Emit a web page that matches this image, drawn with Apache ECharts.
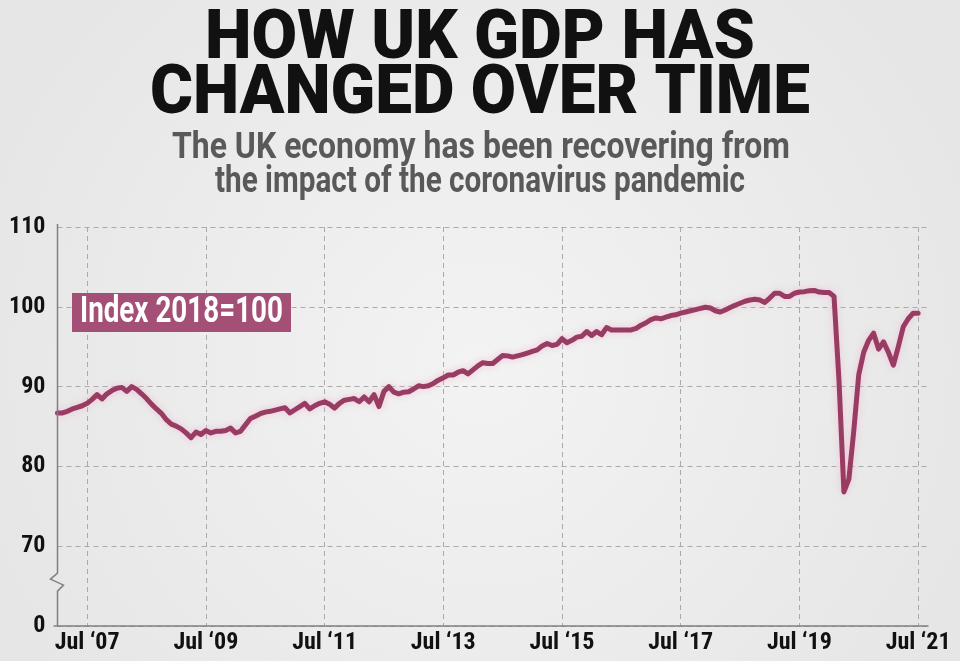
<!DOCTYPE html>
<html><head><meta charset="utf-8">
<script src="https://cdn.jsdelivr.net/npm/echarts@6/dist/echarts.min.js"></script>
<style>html,body{margin:0;padding:0;background:#ececec}#c{width:960px;height:661px}</style>
</head><body><div id="c"></div>
<script>
// ---- data (UK GDP monthly index, 2018=100), Jan 2007 .. Jul 2021 ----
const gdp2007 = [86.7, 86.7, 86.9, 87.2, 87.4, 87.6, 87.9, 88.4, 89.0, 88.45, 89.1, 89.5];
const gdp2008 = [89.8, 89.9, 89.4, 90.0, 89.65, 89.1, 88.5, 87.8, 87.2, 86.65, 85.85, 85.3];
const gdp2009 = [85.05, 84.7, 84.2, 83.6, 84.3, 84.0, 84.5, 84.2, 84.4, 84.4, 84.5, 84.8];
const gdp2010 = [84.2, 84.4, 85.2, 86.0, 86.3, 86.6, 86.8, 86.9, 87.05, 87.2, 87.35, 86.7];
const gdp2011 = [87.1, 87.5, 87.9, 87.2, 87.6, 87.9, 88.1, 87.8, 87.3, 87.9, 88.3, 88.4];
const gdp2012 = [88.5, 88.1, 88.7, 88.1, 89.0, 87.5, 89.4, 90.0, 89.3, 89.1, 89.3, 89.35];
const gdp2013 = [89.7, 90.1, 90.0, 90.1, 90.4, 90.8, 91.1, 91.45, 91.45, 91.8, 92.0, 91.6];
const gdp2014 = [92.1, 92.6, 93.0, 92.9, 92.9, 93.4, 93.9, 93.85, 93.7, 93.85, 94.0, 94.2];
const gdp2015 = [94.4, 94.6, 95.1, 95.4, 95.15, 95.3, 96.0, 95.5, 95.8, 96.2, 96.3, 96.9];
const gdp2016 = [96.4, 96.9, 96.5, 97.4, 97.1, 97.1, 97.1, 97.1, 97.1, 97.3, 97.7, 98.0];
const gdp2017 = [98.4, 98.6, 98.5, 98.7, 98.9, 99.0, 99.2, 99.35, 99.5, 99.65, 99.8, 99.95];
const gdp2018 = [99.85, 99.5, 99.35, 99.6, 99.9, 100.2, 100.45, 100.7, 100.85, 100.95, 100.85, 100.55];
const gdp2019 = [101.1, 101.7, 101.7, 101.3, 101.3, 101.7, 101.85, 101.9, 102.0, 102.05, 101.85, 101.8];
const gdp2020 = [101.8, 101.3, 90.8, 76.8, 78.4, 84.5, 91.5, 94.3, 95.8, 96.7, 94.7, 95.6];
const gdp2021 = [94.3, 92.7, 95.0, 97.5, 98.5, 99.2, 99.2];

const monthNames = ['Jan','Feb','Mar','Apr','May','Jun','Jul','Aug','Sep','Oct','Nov','Dec'];
const firstYear = 2007, lastYear = 2021, lastMonthOnAxis = 9; // axis runs to Sep 2021
const xTickLabels = ['Jul \u201807','Jul \u201809','Jul \u201811','Jul \u201813','Jul \u201815','Jul \u201817','Jul \u201819','Jul \u201821'];
const yTickValues = [60, 70, 80, 90, 100, 110];
const yTickLabels = ['0', '70', '80', '90', '100', '110'];

const titleLines = ['HOW UK GDP HAS', 'CHANGED OVER TIME'];
const subtitleLines = ['The UK economy has been recovering from', 'the impact of the coronavirus pandemic'];
const indexLabel = 'Index 2018=100';

// ---- build ----
const gdpValues = [].concat(gdp2007, gdp2008, gdp2009, gdp2010, gdp2011, gdp2012, gdp2013,
  gdp2014, gdp2015, gdp2016, gdp2017, gdp2018, gdp2019, gdp2020, gdp2021);
const categories = [];
for (let y = firstYear; y <= lastYear; y++) {
  for (let m = 0; m < 12; m++) {
    if (y === lastYear && m >= lastMonthOnAxis) break;
    categories.push(monthNames[m] + ' \u2018' + String(y).slice(2));
  }
}

const LINE = '#983c64', BOX = '#a34f76';
const condensed = "'Liberation Sans Narrow','Roboto Condensed','Arial Narrow',Roboto,sans-serif";
const mc = document.createElement('canvas').getContext('2d');
function fitScale(text, font, w) { mc.font = font; return w / mc.measureText(text).width; }
function fitText(text, font, w, cx, cy, fill) {
  return { type: 'text', x: cx, y: cy, scaleX: fitScale(text, font, w), z: 10,
    style: { text: text, font: font, fill: fill, align: 'center', verticalAlign: 'middle' } };
}
const TF = '900 68px Roboto', SF = '700 36px Roboto', IF = '700 37px Roboto';

const gridLeft = 57.5, gridRight = 32, gridTop = 227, gridBottom = 35;
const chart = echarts.init(document.getElementById('c'), null, { renderer: 'canvas' });
chart.setOption({
  animation: false,
  backgroundColor: { type: 'radial', x: 0.5, y: 0.55, r: 0.8,
    colorStops: [{ offset: 0, color: '#f3f3f3' }, { offset: 1, color: '#e6e6e6' }] },
  grid: { left: gridLeft, right: gridRight, top: gridTop, bottom: gridBottom, containLabel: false },
  xAxis: {
    type: 'category', data: categories, boundaryGap: false,
    axisLine: { show: true, lineStyle: { color: '#808080', width: 1.5 } },
    axisTick: { show: false },
    axisLabel: { interval: (i, v) => xTickLabels.includes(v), color: '#111', fontFamily: condensed,
      fontWeight: 'bold', fontSize: 24, margin: 5 },
    splitLine: { show: true, interval: (i, v) => xTickLabels.includes(v),
      lineStyle: { color: '#aaaaaa', width: 1, type: [5, 4] } }
  },
  yAxis: {
    type: 'value', min: 60, max: 110, interval: 10,
    axisLine: { show: false }, axisTick: { show: false },
    axisLabel: { formatter: v => yTickLabels[yTickValues.indexOf(v)], color: '#111', fontFamily: condensed,
      fontWeight: 'bold', fontSize: 24, margin: 12 },
    splitLine: { show: true, lineStyle: { color: '#aaaaaa', width: 1, type: [5, 4] } }
  },
  series: [{
    type: 'line', data: gdpValues, showSymbol: false, z: 5,
    lineStyle: { color: LINE, width: 5, cap: 'round', join: 'round',
      shadowColor: 'rgba(240,190,212,0.9)', shadowBlur: 7 }
  }]
});

const yTop = gridTop - 3;
const yBot = chart.convertToPixel({ yAxisIndex: 0 }, 60);
const yBrk = chart.convertToPixel({ yAxisIndex: 0 }, 65.5);
const ax = gridLeft;
chart.setOption({
  graphic: [
    fitText(titleLines[0], TF, 550, 480, 41, '#111'),
    fitText(titleLines[1], TF, 660, 480, 96, '#111'),
    fitText(subtitleLines[0], SF, 618, 481, 149, '#595959'),
    fitText(subtitleLines[1], SF, 530, 480, 183, '#595959'),
    { type: 'rect', shape: { x: 72, y: 293, width: 219, height: 39 }, style: { fill: BOX }, z: 9 },
    fitText(indexLabel, IF, 203, 181.5, 313, '#ffffff'),
    { type: 'polyline', z: 8, shape: { points: [[ax, yTop], [ax, yBrk - 9], [ax - 7, yBrk - 3], [ax + 6, yBrk + 3], [ax, yBrk + 9], [ax, yBot]] },
      style: { stroke: '#808080', lineWidth: 1.5, fill: null } },
    { type: 'line', z: 8, shape: { x1: ax - 4, y1: yBot, x2: ax, y2: yBot }, style: { stroke: '#808080', lineWidth: 1.5 } }
  ]
});
</script></body></html>
